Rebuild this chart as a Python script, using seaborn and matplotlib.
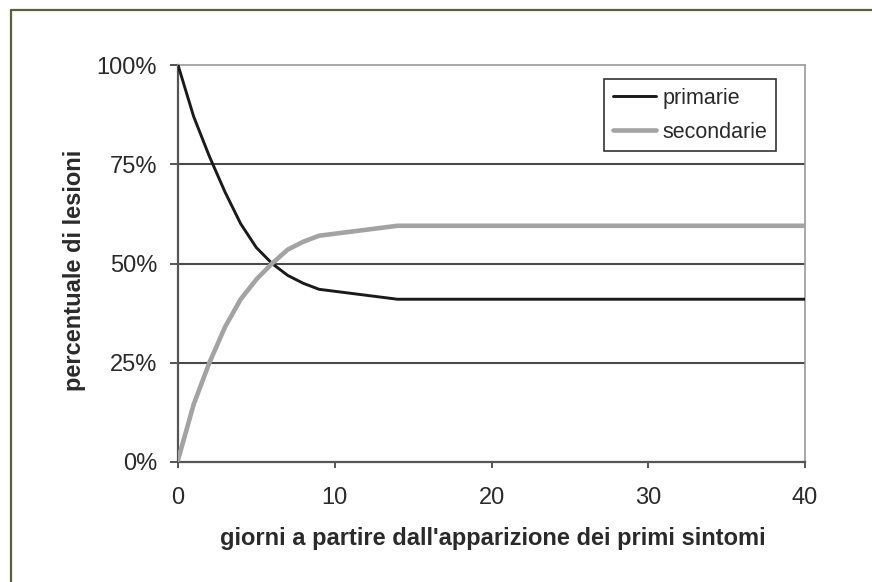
import matplotlib
matplotlib.use("Agg")
import matplotlib.pyplot as plt
import seaborn as sns
import pandas as pd
from matplotlib.lines import Line2D

# data
days = [0, 1, 2, 3, 4, 5, 6, 7, 8, 9, 14, 40]
primarie = [100, 87, 77, 68, 60, 54, 50, 47, 45, 43.5, 41, 41]
secondarie = [0.5, 14.5, 25, 34, 41, 46, 50, 53.5, 55.5, 57, 59.5, 59.5]
series_names = ["primarie", "secondarie"]
y_ticks = [0, 25, 50, 75, 100]
y_tick_labels = ["0%", "25%", "50%", "75%", "100%"]
x_ticks = [0, 10, 20, 30, 40]

df = pd.DataFrame({
    "giorni": days * 2,
    "valore": primarie + secondarie,
    "tipo": [series_names[0]] * len(days) + [series_names[1]] * len(days),
})

sns.set_theme(style="white")
plt.rcParams["font.family"] = ["Liberation Sans", "DejaVu Sans"]

W, H = 872, 582
fig = plt.figure(figsize=(W / 100, H / 100), dpi=100)
fig.patch.set_facecolor("white")
ax = fig.add_axes([178 / W, 1 - 462 / H, (805 - 178) / W, (462 - 65) / H])

palette = {"primarie": "#1a1a1a", "secondarie": "#a3a3a3"}
sns.lineplot(data=df, x="giorni", y="valore", hue="tipo", palette=palette,
             ax=ax, legend=False, zorder=3)
ax.lines[0].set_linewidth(2.1)
ax.lines[1].set_linewidth(3.3)
for ln in ax.lines:
    ln.set_solid_joinstyle("round")

ax.set_xlim(0, 40)
ax.set_ylim(0, 100)
ax.set_xticks(x_ticks)
ax.set_yticks(y_ticks)
ax.set_yticklabels(y_tick_labels)
ax.set_xlabel("")
ax.set_ylabel("")

for yv in [25, 50, 75]:
    ax.axhline(yv, color="#4a4a4a", lw=1.5, zorder=1)

for s in ["left", "bottom"]:
    ax.spines[s].set_color("#555555")
    ax.spines[s].set_linewidth(1.6)
for s in ["top", "right"]:
    ax.spines[s].set_color("#9a9a9a")
    ax.spines[s].set_linewidth(1.2)

ax.tick_params(axis="y", direction="out", length=6, width=1.4, color="#555555",
               labelsize=17, labelcolor="#2a2a2a", pad=9, left=True)
ax.tick_params(axis="x", direction="out", length=4, width=1.4, color="#555555",
               labelsize=17, labelcolor="#2a2a2a", pad=14, bottom=True)

# axis titles
fig.text(493 / W, 1 - 539 / H, "giorni a partire dall'apparizione dei primi sintomi",
         ha="center", va="center", fontsize=17, fontweight="bold", color="#2a2a2a")
fig.text(74 / W, 1 - 270 / H, "percentuale di lesioni", ha="center", va="center",
         rotation=90, fontsize=17, fontweight="bold", color="#2a2a2a")

# legend
handles = [Line2D([0], [0], color=palette["primarie"], lw=2.1),
           Line2D([0], [0], color=palette["secondarie"], lw=3.3)]
leg = ax.legend(handles, series_names, loc="upper right",
                bbox_to_anchor=((776 - 178) / (805 - 178), (462 - 79) / (462 - 65)),
                fontsize=15.5, frameon=True, fancybox=False, framealpha=1,
                edgecolor="#333333", handlelength=2.0, handletextpad=0.3,
                borderpad=0.4, labelspacing=0.6, borderaxespad=0)
leg.get_frame().set_linewidth(1.2)
for t in leg.get_texts():
    t.set_color("#2a2a2a")

# outer frame (partially visible)
fc = "#5b5e3f"
fig.add_artist(Line2D([11 / W, 11 / W], [0, 1 - 10 / H], color=fc, lw=1.6,
                      transform=fig.transFigure))
fig.add_artist(Line2D([11 / W, 1], [1 - 10 / H, 1 - 10 / H], color=fc, lw=1.6,
                      transform=fig.transFigure))

fig.savefig("out.png", dpi=100, facecolor="white")
